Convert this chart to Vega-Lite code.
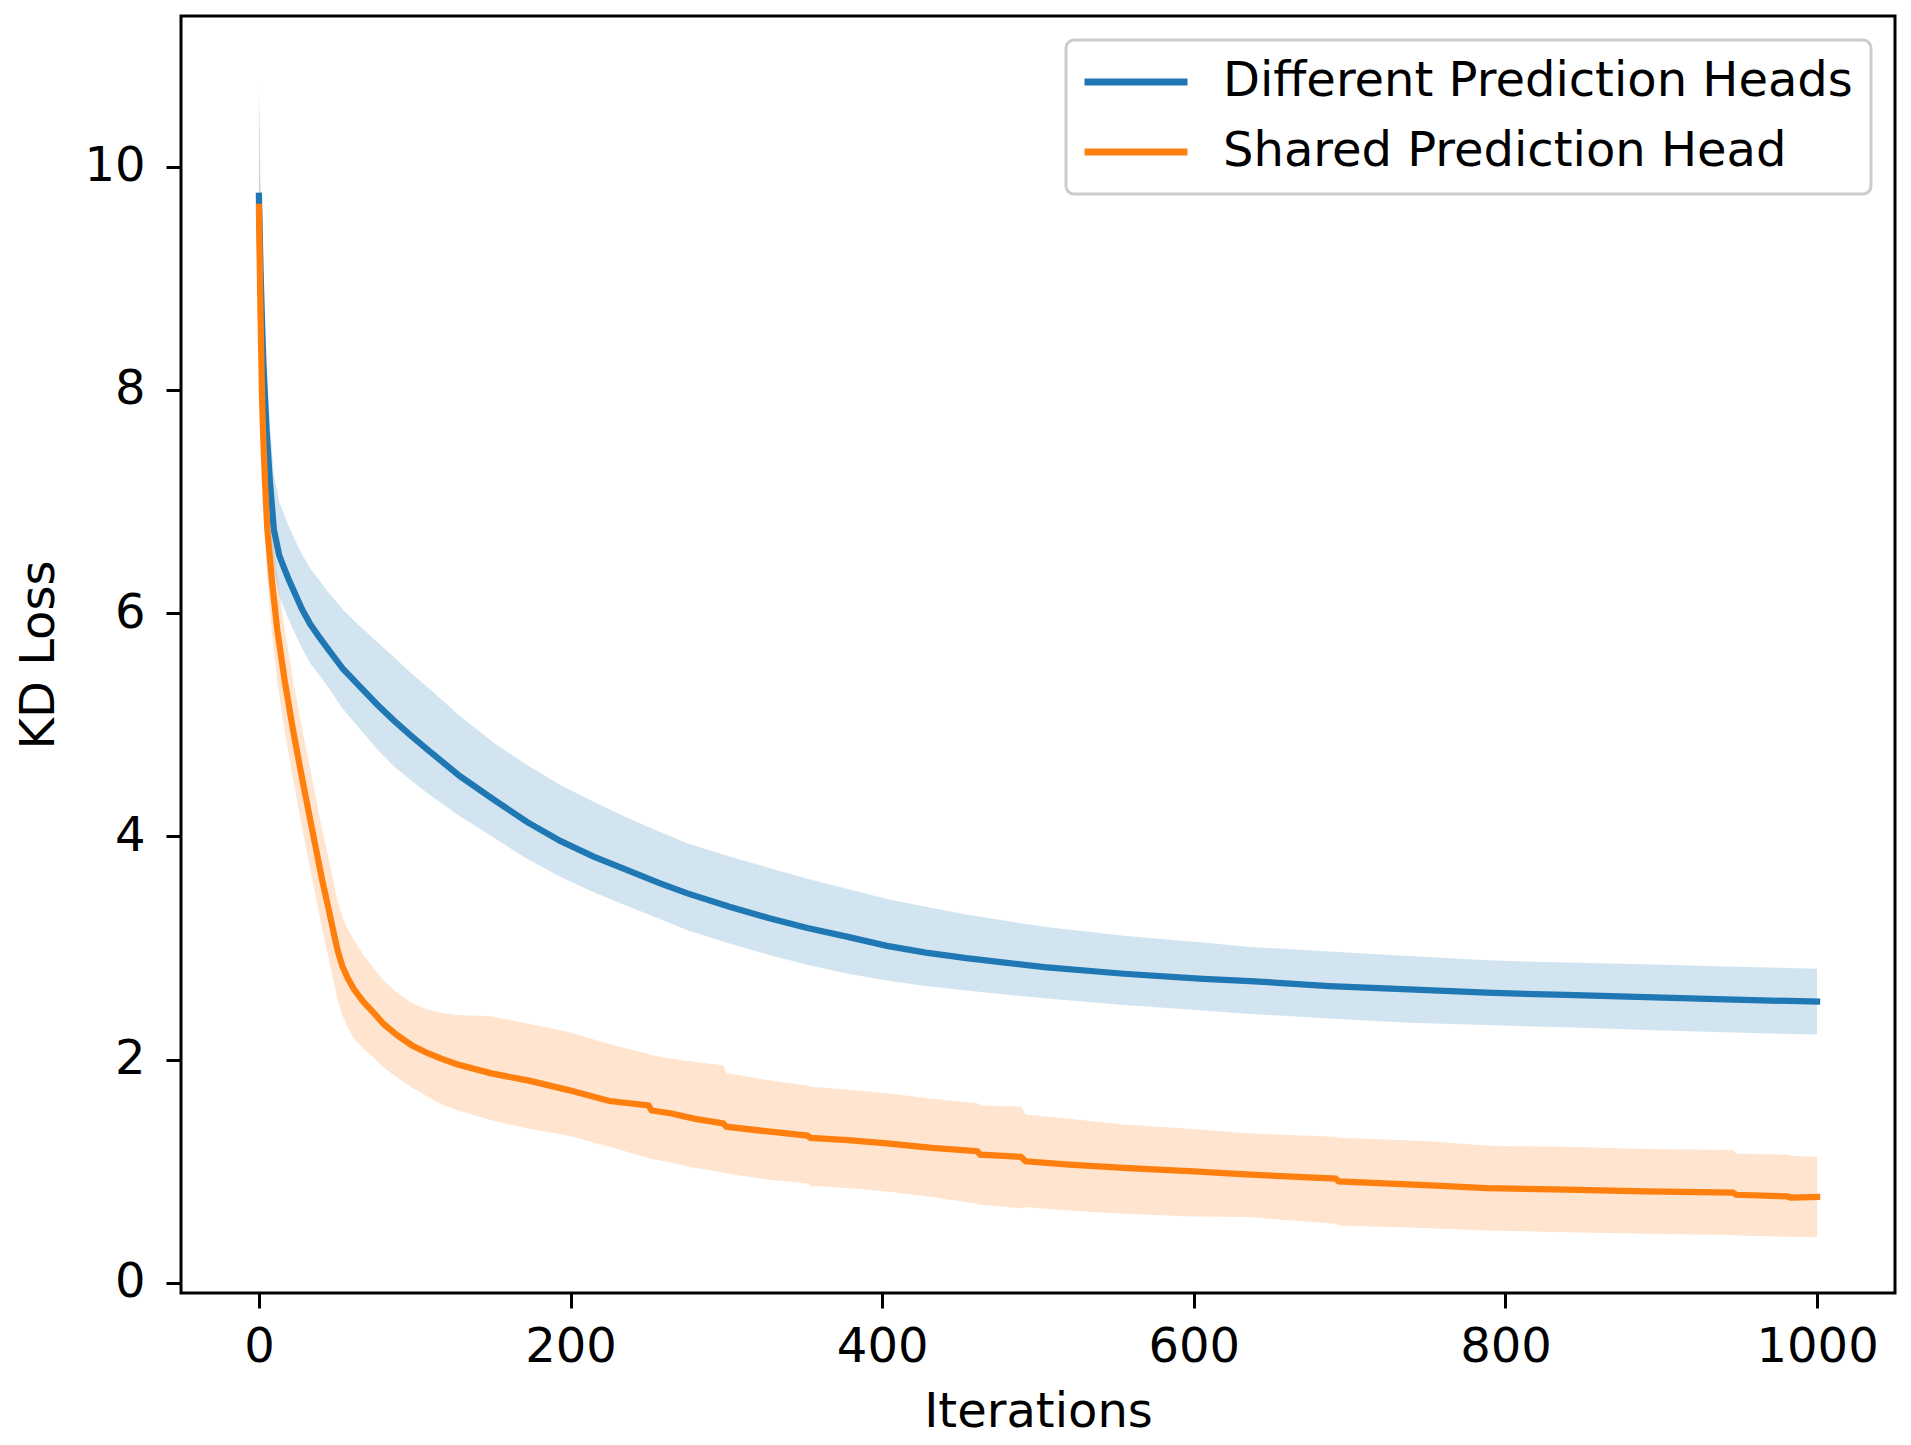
{
  "$schema": "https://vega.github.io/schema/vega-lite/v6.json",
  "width": 1714,
  "height": 1277,
  "autosize": {"type": "none"},
  "padding": {"left": 181, "top": 16, "right": 16, "bottom": 152},
  "background": "white",
  "config": {
    "view": {"stroke": "black", "strokeWidth": 3},
    "font": "DejaVu Sans",
    "axis": {
      "grid": false,
      "domain": false,
      "tickColor": "black",
      "tickWidth": 3,
      "tickSize": 15,
      "labelFont": "DejaVu Sans",
      "labelFontSize": 48,
      "labelColor": "black",
      "titleFont": "DejaVu Sans",
      "titleFontSize": 48,
      "titleFontWeight": "normal",
      "titleColor": "black"
    },
    "legend": {
      "strokeColor": "#cccccc",
      "strokeWidth": 3,
      "cornerRadius": 8,
      "fillColor": "white",
      "padding": 18
    }
  },
  "datasets": {
    "blue": [
      {"iter": 0, "series": "Different Prediction Heads", "mean": 9.74, "lo": 8.74, "hi": 10.74},
      {"iter": 1, "series": "Different Prediction Heads", "mean": 9.1, "lo": 8.4, "hi": 9.9},
      {"iter": 2, "series": "Different Prediction Heads", "mean": 8.6, "lo": 8.05, "hi": 9.25},
      {"iter": 3, "series": "Different Prediction Heads", "mean": 8.2, "lo": 7.75, "hi": 8.8},
      {"iter": 4.9, "series": "Different Prediction Heads", "mean": 7.64, "lo": 7.25, "hi": 8.15},
      {"iter": 7, "series": "Different Prediction Heads", "mean": 7.19, "lo": 6.8, "hi": 7.7},
      {"iter": 9.6, "series": "Different Prediction Heads", "mean": 6.75, "lo": 6.39, "hi": 7.24},
      {"iter": 13, "series": "Different Prediction Heads", "mean": 6.52, "lo": 6.16, "hi": 7.0},
      {"iter": 16, "series": "Different Prediction Heads", "mean": 6.41, "lo": 6.05, "hi": 6.89},
      {"iter": 19.2, "series": "Different Prediction Heads", "mean": 6.3, "lo": 5.94, "hi": 6.78},
      {"iter": 22.4, "series": "Different Prediction Heads", "mean": 6.2, "lo": 5.84, "hi": 6.68},
      {"iter": 27.5, "series": "Different Prediction Heads", "mean": 6.04, "lo": 5.69, "hi": 6.53},
      {"iter": 33, "series": "Different Prediction Heads", "mean": 5.9, "lo": 5.55, "hi": 6.4},
      {"iter": 38.5, "series": "Different Prediction Heads", "mean": 5.79, "lo": 5.45, "hi": 6.3},
      {"iter": 43.8, "series": "Different Prediction Heads", "mean": 5.69, "lo": 5.35, "hi": 6.2},
      {"iter": 54, "series": "Different Prediction Heads", "mean": 5.5, "lo": 5.14, "hi": 6.03},
      {"iter": 65, "series": "Different Prediction Heads", "mean": 5.34, "lo": 4.96, "hi": 5.88},
      {"iter": 76, "series": "Different Prediction Heads", "mean": 5.18, "lo": 4.78, "hi": 5.74},
      {"iter": 86.5, "series": "Different Prediction Heads", "mean": 5.04, "lo": 4.63, "hi": 5.61},
      {"iter": 97, "series": "Different Prediction Heads", "mean": 4.91, "lo": 4.51, "hi": 5.47},
      {"iter": 108, "series": "Different Prediction Heads", "mean": 4.78, "lo": 4.39, "hi": 5.34},
      {"iter": 129, "series": "Different Prediction Heads", "mean": 4.54, "lo": 4.18, "hi": 5.08},
      {"iter": 150.7, "series": "Different Prediction Heads", "mean": 4.33, "lo": 3.99, "hi": 4.84},
      {"iter": 172, "series": "Different Prediction Heads", "mean": 4.13, "lo": 3.8, "hi": 4.64},
      {"iter": 193.4, "series": "Different Prediction Heads", "mean": 3.96, "lo": 3.64, "hi": 4.46},
      {"iter": 214.8, "series": "Different Prediction Heads", "mean": 3.82, "lo": 3.5, "hi": 4.31},
      {"iter": 236, "series": "Different Prediction Heads", "mean": 3.7, "lo": 3.38, "hi": 4.17},
      {"iter": 257.5, "series": "Different Prediction Heads", "mean": 3.58, "lo": 3.26, "hi": 4.04},
      {"iter": 275, "series": "Different Prediction Heads", "mean": 3.49, "lo": 3.16, "hi": 3.94},
      {"iter": 302, "series": "Different Prediction Heads", "mean": 3.37, "lo": 3.04, "hi": 3.82},
      {"iter": 327, "series": "Different Prediction Heads", "mean": 3.27, "lo": 2.94, "hi": 3.72},
      {"iter": 352, "series": "Different Prediction Heads", "mean": 3.18, "lo": 2.85, "hi": 3.62},
      {"iter": 378, "series": "Different Prediction Heads", "mean": 3.1, "lo": 2.77, "hi": 3.53},
      {"iter": 403, "series": "Different Prediction Heads", "mean": 3.02, "lo": 2.71, "hi": 3.44},
      {"iter": 428, "series": "Different Prediction Heads", "mean": 2.96, "lo": 2.66, "hi": 3.37},
      {"iter": 454, "series": "Different Prediction Heads", "mean": 2.91, "lo": 2.62, "hi": 3.3},
      {"iter": 504, "series": "Different Prediction Heads", "mean": 2.83, "lo": 2.55, "hi": 3.19},
      {"iter": 555, "series": "Different Prediction Heads", "mean": 2.77, "lo": 2.49, "hi": 3.11},
      {"iter": 606, "series": "Different Prediction Heads", "mean": 2.725, "lo": 2.44, "hi": 3.05},
      {"iter": 636, "series": "Different Prediction Heads", "mean": 2.705, "lo": 2.41, "hi": 3.01},
      {"iter": 687, "series": "Different Prediction Heads", "mean": 2.66, "lo": 2.37, "hi": 2.97},
      {"iter": 738, "series": "Different Prediction Heads", "mean": 2.63, "lo": 2.33, "hi": 2.93},
      {"iter": 788, "series": "Different Prediction Heads", "mean": 2.6, "lo": 2.31, "hi": 2.89},
      {"iter": 839, "series": "Different Prediction Heads", "mean": 2.58, "lo": 2.29, "hi": 2.87},
      {"iter": 890, "series": "Different Prediction Heads", "mean": 2.56, "lo": 2.265, "hi": 2.855},
      {"iter": 941, "series": "Different Prediction Heads", "mean": 2.54, "lo": 2.245, "hi": 2.835},
      {"iter": 1000, "series": "Different Prediction Heads", "mean": 2.52, "lo": 2.225, "hi": 2.815}
    ],
    "orange": [
      {"iter": 0, "series": "Shared Prediction Head", "mean": 9.64, "lo": 8.6, "hi": 10.7},
      {"iter": 1, "series": "Shared Prediction Head", "mean": 8.7, "lo": 8.0, "hi": 9.4},
      {"iter": 2, "series": "Shared Prediction Head", "mean": 7.95, "lo": 7.4, "hi": 8.5},
      {"iter": 2.6, "series": "Shared Prediction Head", "mean": 7.64, "lo": 7.15, "hi": 8.15},
      {"iter": 4, "series": "Shared Prediction Head", "mean": 7.15, "lo": 6.7, "hi": 7.65},
      {"iter": 5.4, "series": "Shared Prediction Head", "mean": 6.75, "lo": 6.3, "hi": 7.25},
      {"iter": 8.5, "series": "Shared Prediction Head", "mean": 6.27, "lo": 5.8, "hi": 6.75},
      {"iter": 11.8, "series": "Shared Prediction Head", "mean": 5.85, "lo": 5.38, "hi": 6.32},
      {"iter": 16.5, "series": "Shared Prediction Head", "mean": 5.4, "lo": 4.95, "hi": 5.86},
      {"iter": 21.8, "series": "Shared Prediction Head", "mean": 4.96, "lo": 4.52, "hi": 5.41},
      {"iter": 28, "series": "Shared Prediction Head", "mean": 4.5, "lo": 4.06, "hi": 4.95},
      {"iter": 34.2, "series": "Shared Prediction Head", "mean": 4.06, "lo": 3.62, "hi": 4.51},
      {"iter": 40.6, "series": "Shared Prediction Head", "mean": 3.61, "lo": 3.17, "hi": 4.06},
      {"iter": 43.8, "series": "Shared Prediction Head", "mean": 3.41, "lo": 2.97, "hi": 3.86},
      {"iter": 47.5, "series": "Shared Prediction Head", "mean": 3.17, "lo": 2.73, "hi": 3.62},
      {"iter": 50.5, "series": "Shared Prediction Head", "mean": 2.98, "lo": 2.54, "hi": 3.42},
      {"iter": 53.5, "series": "Shared Prediction Head", "mean": 2.84, "lo": 2.4, "hi": 3.28},
      {"iter": 57, "series": "Shared Prediction Head", "mean": 2.73, "lo": 2.29, "hi": 3.17},
      {"iter": 61, "series": "Shared Prediction Head", "mean": 2.63, "lo": 2.19, "hi": 3.07},
      {"iter": 67, "series": "Shared Prediction Head", "mean": 2.52, "lo": 2.1, "hi": 2.94},
      {"iter": 73.7, "series": "Shared Prediction Head", "mean": 2.42, "lo": 2.02, "hi": 2.82},
      {"iter": 80, "series": "Shared Prediction Head", "mean": 2.32, "lo": 1.93, "hi": 2.71},
      {"iter": 88.7, "series": "Shared Prediction Head", "mean": 2.22, "lo": 1.84, "hi": 2.6},
      {"iter": 98, "series": "Shared Prediction Head", "mean": 2.13, "lo": 1.75, "hi": 2.51},
      {"iter": 108, "series": "Shared Prediction Head", "mean": 2.06, "lo": 1.67, "hi": 2.45},
      {"iter": 117, "series": "Shared Prediction Head", "mean": 2.01, "lo": 1.6, "hi": 2.42},
      {"iter": 127, "series": "Shared Prediction Head", "mean": 1.96, "lo": 1.55, "hi": 2.4},
      {"iter": 148.5, "series": "Shared Prediction Head", "mean": 1.88, "lo": 1.46, "hi": 2.39},
      {"iter": 174, "series": "Shared Prediction Head", "mean": 1.81, "lo": 1.38, "hi": 2.32},
      {"iter": 198, "series": "Shared Prediction Head", "mean": 1.73, "lo": 1.32, "hi": 2.25},
      {"iter": 225, "series": "Shared Prediction Head", "mean": 1.63, "lo": 1.22, "hi": 2.14},
      {"iter": 250, "series": "Shared Prediction Head", "mean": 1.59, "lo": 1.12, "hi": 2.05},
      {"iter": 252, "series": "Shared Prediction Head", "mean": 1.545, "lo": 1.11, "hi": 2.04},
      {"iter": 264, "series": "Shared Prediction Head", "mean": 1.52, "lo": 1.08, "hi": 2.01},
      {"iter": 280, "series": "Shared Prediction Head", "mean": 1.47, "lo": 1.03, "hi": 1.98},
      {"iter": 298, "series": "Shared Prediction Head", "mean": 1.43, "lo": 0.99, "hi": 1.95},
      {"iter": 300, "series": "Shared Prediction Head", "mean": 1.4, "lo": 0.98, "hi": 1.88},
      {"iter": 325, "series": "Shared Prediction Head", "mean": 1.36, "lo": 0.93, "hi": 1.82},
      {"iter": 352, "series": "Shared Prediction Head", "mean": 1.32, "lo": 0.89, "hi": 1.77},
      {"iter": 354, "series": "Shared Prediction Head", "mean": 1.3, "lo": 0.87, "hi": 1.76},
      {"iter": 378, "series": "Shared Prediction Head", "mean": 1.28, "lo": 0.85, "hi": 1.73},
      {"iter": 403, "series": "Shared Prediction Head", "mean": 1.25, "lo": 0.82, "hi": 1.7},
      {"iter": 432, "series": "Shared Prediction Head", "mean": 1.21, "lo": 0.77, "hi": 1.65},
      {"iter": 461, "series": "Shared Prediction Head", "mean": 1.18, "lo": 0.71, "hi": 1.61},
      {"iter": 463, "series": "Shared Prediction Head", "mean": 1.15, "lo": 0.7, "hi": 1.59},
      {"iter": 489, "series": "Shared Prediction Head", "mean": 1.13, "lo": 0.67, "hi": 1.58},
      {"iter": 492, "series": "Shared Prediction Head", "mean": 1.09, "lo": 0.68, "hi": 1.51},
      {"iter": 520, "series": "Shared Prediction Head", "mean": 1.06, "lo": 0.65, "hi": 1.47},
      {"iter": 555, "series": "Shared Prediction Head", "mean": 1.03, "lo": 0.62, "hi": 1.42},
      {"iter": 600, "series": "Shared Prediction Head", "mean": 1.0, "lo": 0.595, "hi": 1.38},
      {"iter": 636, "series": "Shared Prediction Head", "mean": 0.97, "lo": 0.59, "hi": 1.34},
      {"iter": 691, "series": "Shared Prediction Head", "mean": 0.935, "lo": 0.53, "hi": 1.31},
      {"iter": 693, "series": "Shared Prediction Head", "mean": 0.91, "lo": 0.515, "hi": 1.3},
      {"iter": 752, "series": "Shared Prediction Head", "mean": 0.875, "lo": 0.49, "hi": 1.27},
      {"iter": 788, "series": "Shared Prediction Head", "mean": 0.85, "lo": 0.47, "hi": 1.23},
      {"iter": 839, "series": "Shared Prediction Head", "mean": 0.835, "lo": 0.455, "hi": 1.22},
      {"iter": 890, "series": "Shared Prediction Head", "mean": 0.82, "lo": 0.44, "hi": 1.2},
      {"iter": 946, "series": "Shared Prediction Head", "mean": 0.81, "lo": 0.43, "hi": 1.19},
      {"iter": 948, "series": "Shared Prediction Head", "mean": 0.79, "lo": 0.425, "hi": 1.16},
      {"iter": 981, "series": "Shared Prediction Head", "mean": 0.775, "lo": 0.415, "hi": 1.15},
      {"iter": 983, "series": "Shared Prediction Head", "mean": 0.765, "lo": 0.415, "hi": 1.14},
      {"iter": 1000, "series": "Shared Prediction Head", "mean": 0.77, "lo": 0.41, "hi": 1.13}
    ]
  },
  "encoding": {
    "x": {
      "field": "iter",
      "type": "quantitative",
      "title": "Iterations",
      "scale": {"domain": [-50, 1050], "nice": false, "zero": false},
      "axis": {"values": [0, 200, 400, 600, 800, 1000], "labelPadding": 15, "titlePadding": 17, "format": "d"}
    }
  },
  "layer": [
    {
      "data": {"name": "blue"},
      "mark": {"type": "area", "fill": "#1f77b4", "fillOpacity": 0.2, "strokeWidth": 0},
      "encoding": {
        "y": {"field": "lo", "type": "quantitative"},
        "y2": {"field": "hi"}
      }
    },
    {
      "data": {"name": "orange"},
      "mark": {"type": "area", "fill": "#ff7f0e", "fillOpacity": 0.2, "strokeWidth": 0},
      "encoding": {
        "y": {"field": "lo", "type": "quantitative"},
        "y2": {"field": "hi"}
      }
    },
    {
      "data": {"name": "blue"},
      "mark": {"type": "line", "strokeWidth": 6.25, "strokeCap": "square"},
      "encoding": {
        "y": {
          "field": "mean",
          "type": "quantitative",
          "title": "KD Loss",
          "scale": {"domain": [-0.09, 11.35], "nice": false, "zero": false},
          "axis": {"values": [0, 2, 4, 6, 8, 10], "format": "d", "labelPadding": 21, "titlePadding": 20}
        },
        "color": {
          "field": "series",
          "type": "nominal",
          "scale": {"domain": ["Different Prediction Heads", "Shared Prediction Head"], "range": ["#1f77b4", "#ff7f0e"]},
          "legend": {
            "title": null,
            "orient": "none",
            "legendX": 885,
            "legendY": 24,
            "symbolType": "M-3,0H3",
            "symbolSize": 1179,
            "symbolStrokeWidth": 7,
            "symbolOffset": 28,
            "labelOffset": 63,
            "labelFont": "DejaVu Sans",
            "labelFontSize": 48,
            "labelColor": "black",
            "labelLimit": 1000,
            "rowPadding": 22
          }
        }
      }
    },
    {
      "data": {"name": "orange"},
      "mark": {"type": "line", "strokeWidth": 6.25, "strokeCap": "square"},
      "encoding": {
        "y": {"field": "mean", "type": "quantitative"},
        "color": {"field": "series", "type": "nominal"}
      }
    }
  ]
}
